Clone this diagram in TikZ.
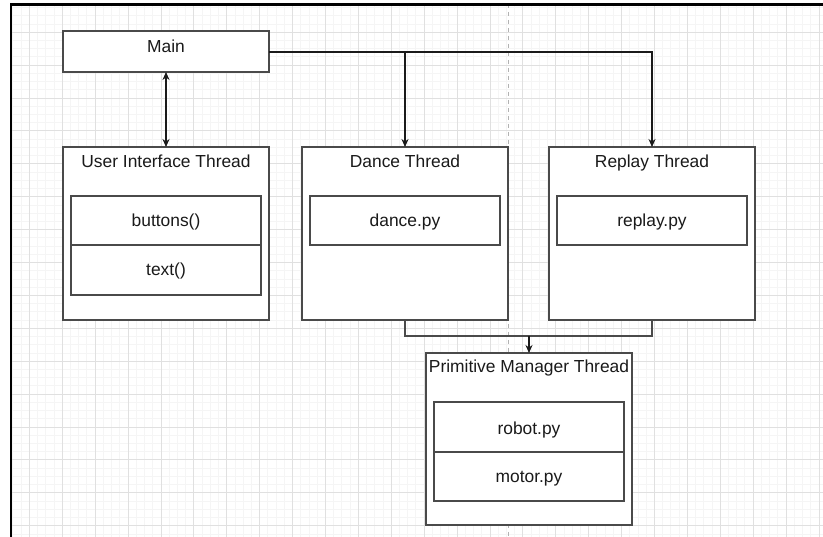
\documentclass[tikz,border=0pt]{standalone}
\usepackage{fontspec}
\setmainfont{Liberation Sans}
\usetikzlibrary{arrows.meta}

\definecolor{gridminor}{HTML}{F5F5F5}
\definecolor{gridmajor}{HTML}{E0E0E0}
\definecolor{edge}{HTML}{4A4A4A}
\definecolor{ink}{HTML}{1A1A1A}

\tikzset{
  box/.style={draw=edge, line width=1.1pt, fill=white},
  label/.style={anchor=base, text=ink, inner sep=0pt,
                font=\fontsize{17.4}{20}\selectfont},
  wire/.style={draw=edge, line width=1.1pt},
  tip/.style={-{Stealth[length=8pt,width=7pt]}},
  tips/.style={{Stealth[length=8pt,width=7pt]}-{Stealth[length=8pt,width=7pt]}},
}

\begin{document}
\begin{tikzpicture}[x=1pt, y=-1pt]
  \useasboundingbox (0,0) rectangle (823,537);
  \fill[white] (0,0) rectangle (823,537);

  % background grid
  \begin{scope}
    \clip (12,4) rectangle (823,537);
    \foreach \i in {0,...,100} {
      \draw[gridminor, line width=0.8pt] ({-3.6+8.225*\i},0) -- ++(0,537);
      \draw[gridminor, line width=0.8pt] (0,{-0.7+8.225*\i}) -- ++(823,0);
    }
    \foreach \i in {0,...,26} {
      \draw[gridmajor, line width=0.8pt] ({-3.6+32.9*\i},0) -- ++(0,537);
      \draw[gridmajor, line width=0.8pt] (0,{-0.7+32.9*\i}) -- ++(823,0);
    }
    \draw[gray!60, line width=0.8pt, dash pattern=on 4pt off 4pt] (508,4) -- (508,537);
  \end{scope}

  % frame edges
  \draw[black, line width=2.5pt] (11,537) -- (11,4.3) -- (823,4.3);

  % boxes
  \path[box] (63,31) rectangle (269,72);
  \node[label] (main) at (166,53) {Main};
  \coordinate (mainR) at (269,52);
  \coordinate (mainB) at (166,72);

  \path[box] (63,147) rectangle (269,320);
  \node[label] (ui) at (166,168) {User Interface Thread};
  \coordinate (uiT) at (166,147);
  \path[box] (71,196) rectangle (261,245);
  \path[box] (71,245) rectangle (261,295);
  \node[label] (btn) at (166,226.5) {buttons()};
  \node[label] (txt) at (166,276) {text()};

  \path[box] (302,147) rectangle (508,320);
  \node[label] (dance) at (405,168) {Dance Thread};
  \coordinate (danceT) at (405,147);
  \coordinate (danceB) at (405,320);
  \path[box] (310,196) rectangle (500,245);
  \node[label] (dancepy) at (405,226.5) {dance.py};

  \path[box] (549,147) rectangle (755,320);
  \node[label] (replay) at (652,168) {Replay Thread};
  \coordinate (replayT) at (652,147);
  \coordinate (replayB) at (652,320);
  \path[box] (557,196) rectangle (747,245);
  \node[label] (replaypy) at (652,226.5) {replay.py};

  \path[box] (426,353) rectangle (632,525);
  \node[label] (prim) at (529,373) {Primitive Manager Thread};
  \coordinate (primT) at (529,353);
  \path[box] (434,402) rectangle (624,452);
  \path[box] (434,452) rectangle (624,501);
  \node[label] (robot) at (529,434.5) {robot.py};
  \node[label] (motor) at (529,483) {motor.py};

  % connectors
  \draw[wire, tips, draw=ink] (mainB) -- (uiT);
  \draw[wire, tip, draw=ink] (mainR) -| (danceT);
  \draw[wire, tip, draw=ink] (mainR) -| (replayT);
  \coordinate (join) at (529,336);
  \draw[wire] (danceB) |- (join);
  \draw[wire] (replayB) |- (join);
  \draw[wire, tip, draw=ink] (join) -- (primT);
\end{tikzpicture}
\end{document}
